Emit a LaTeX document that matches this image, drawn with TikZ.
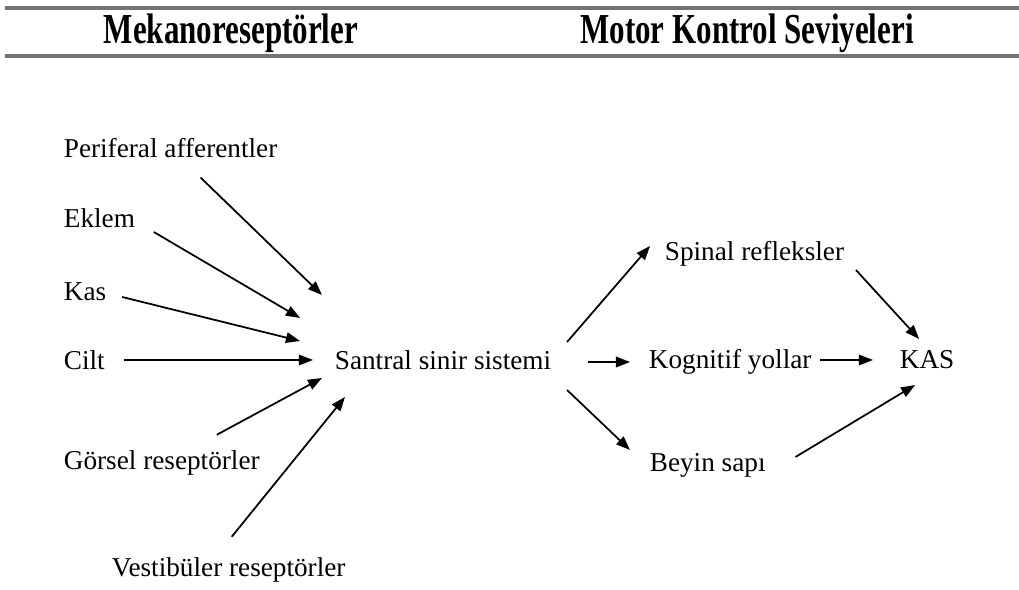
\documentclass[tikz,border=0pt]{standalone}
\usepackage{fontspec}
\setmainfont{Liberation Serif}
\usetikzlibrary{arrows.meta, positioning, calc}

\begin{document}
\begin{tikzpicture}[x=0.02cm, y=-0.02cm,
    lbl/.style={font=\fontsize{15.5}{18}\selectfont, inner sep=2pt},
    head/.style={font=\fontsize{18}{22}\selectfont\bfseries, inner sep=0pt},
    rulebar/.style={line width=2.4pt, black!55},
    arr/.style={-{Triangle[length=8pt, width=6pt]}, line width=1pt}]

    \useasboundingbox (0,0) rectangle (1019,590);

    % --- Baslik ---
    \draw[rulebar] (5,8) -- (1019,8);
    \draw[rulebar] (5,56) -- (1019,56);
    \node[head] (mek) at (231,33) {\scalebox{0.98}[1.35]{Mekanoreseptörler}};
    \node[head] (mks) at (747,33) {\scalebox{0.98}[1.35]{Motor Kontrol Seviyeleri}};

    % --- Mekanoreseptorler ---
    \node[lbl, anchor=west] (per) at (60,148) {Periferal afferentler};
    \node[lbl, anchor=west] (eklem) at (60,218) {Eklem};
    \node[lbl, anchor=west] (kas) at (60,292) {Kas};
    \node[lbl, anchor=west] (cilt) at (60,360) {Cilt};
    \node[lbl, anchor=west] (gorsel) at (60,463) {Görsel reseptörler};
    \node[lbl, anchor=west] (vest) at (108,570) {Vestibüler reseptörler};

    \node[lbl, anchor=west] (sss) at (331,360) {Santral sinir sistemi};

    \draw[arr] ($(per.south)+(30,16)$) -- ($(sss.west)+(-9,-65)$);
    \draw[arr] ($(eklem.east)+(15,14)$) -- ($(sss.west)+(-31,-42)$);
    \draw[arr] ($(kas.east)+(12,5)$) -- ($(sss.west)+(-31,-19)$);
    \draw[arr] ($(cilt.east)+(15,0)$) -- ($(sss.west)+(-18,0)$);
    \draw[arr] ($(gorsel.north)+(55,-12)$) -- ($(sss.west)+(-9,18)$);
    \draw[arr] ($(vest.north)+(3,-17)$) -- ($(sss.west)+(14,37)$);

    % --- Motor kontrol seviyeleri ---
    \node[lbl, anchor=west] (spinal) at (661,254) {Spinal refleksler};
    \node[lbl, anchor=west] (kognitif) at (645,362) {Kognitif yollar};
    \node[lbl, anchor=west] (beyin) at (646,465) {Beyin sapı};
    \node[lbl, anchor=west] (kasout) at (896,360) {KAS};

    \draw[arr] ($(sss.east)+(12,-18)$) -- ($(spinal.west)+(-11,-8)$);
    \draw[arr] ($(sss.east)+(33,2)$) -- ($(kognitif.west)+(-15,0)$);
    \draw[arr] ($(sss.east)+(12,30)$) -- ($(beyin.west)+(-16,-15)$);
    \draw[arr] ($(spinal.east)+(8,16)$) -- ($(kasout.north)+(-8,-8)$);
    \draw[arr] ($(kognitif.east)+(5,-2)$) -- ($(kasout.west)+(-23,0)$);
    \draw[arr] ($(beyin.east)+(26,-8)$) -- ($(kasout.south)+(-12,12)$);

\end{tikzpicture}
\end{document}
